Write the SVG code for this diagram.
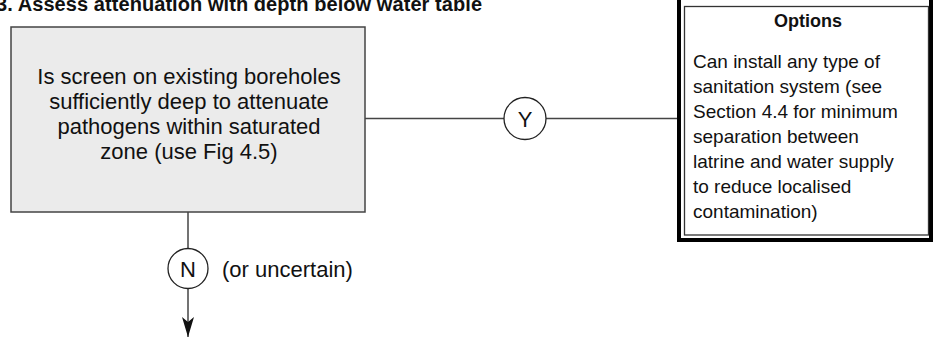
<svg xmlns="http://www.w3.org/2000/svg" width="934" height="337" viewBox="0 0 934 337">
<defs>
<style>
.t{font-family:"Liberation Sans",Arial,sans-serif;fill:#111;}
.box{fill:#ebebeb;stroke:#444;stroke-width:1.5;}
.ln{stroke:#444;stroke-width:1.5;fill:none;}
.c{fill:#fff;stroke:#222;stroke-width:1.3;}
</style>
<marker id="ah" markerWidth="20" markerHeight="12" refX="20" refY="6" orient="auto" markerUnits="userSpaceOnUse" viewBox="0 0 20 12">
<path d="M0,0 L20,6 L0,12 L5,6 Z" fill="#111"/>
</marker>
</defs>
<text class="t" x="-4" y="11" font-size="20" font-weight="bold" textLength="486">3. Assess attenuation with depth below water table</text>
<g id="connectors">
<line class="ln" x1="365" y1="118.5" x2="678" y2="118.5"/>
<line class="ln" x1="188" y1="212" x2="188" y2="337" marker-end="url(#ah)"/>
</g>
<g id="question">
<rect class="box" x="11" y="27" width="354" height="185"/>
<text class="t" font-size="22" text-anchor="middle"><tspan x="189" y="84">Is screen on existing boreholes</tspan><tspan x="189" y="109">sufficiently deep to attenuate</tspan><tspan x="189" y="134">pathogens within saturated</tspan><tspan x="189" y="159">zone (use Fig 4.5)</tspan></text>
</g>
<g id="yes">
<circle class="c" cx="525" cy="118.5" r="21"/>
<text class="t" x="525" y="126.5" font-size="22" text-anchor="middle">Y</text>
</g>
<g id="no">
<circle class="c" cx="188" cy="268.5" r="20"/>
<text class="t" x="188" y="276.5" font-size="22" text-anchor="middle">N</text>
<text class="t" x="222" y="277" font-size="22">(or uncertain)</text>
</g>
<g id="options">
<rect x="679" y="-2" width="252" height="242" fill="#fff" stroke="#000" stroke-width="4"/>
<rect x="684.5" y="6.5" width="244" height="228.5" fill="none" stroke="#333" stroke-width="1.3"/>
<text class="t" x="808" y="27" font-size="18" font-weight="bold" text-anchor="middle">Options</text>
<text class="t" font-size="19"><tspan x="693" y="68">Can install any type of</tspan><tspan x="693" y="93">sanitation system (see</tspan><tspan x="693" y="118">Section 4.4 for minimum</tspan><tspan x="693" y="143">separation between</tspan><tspan x="693" y="168">latrine and water supply</tspan><tspan x="693" y="193">to reduce localised</tspan><tspan x="693" y="218">contamination)</tspan></text>
</g>
</svg>
